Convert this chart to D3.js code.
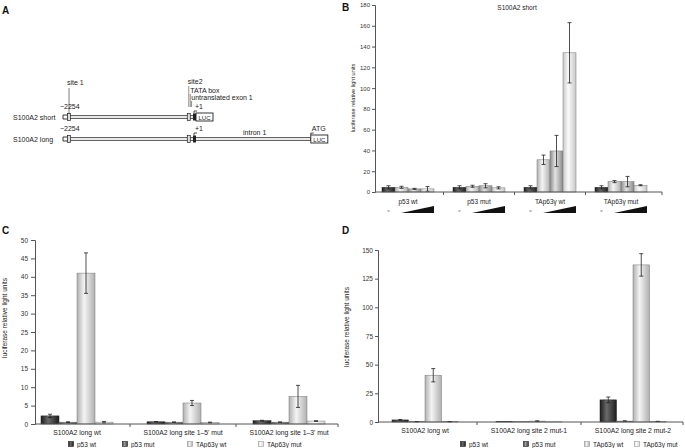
<!DOCTYPE html>
<html><head><meta charset="utf-8">
<script src="https://cdn.jsdelivr.net/npm/d3@7"></script>
<style>body{margin:0;background:#fff}text{font-family:"Liberation Sans",Arial,sans-serif;fill:#222}</style>
</head><body>
<script>
// ---------- DATA ----------
// Panel B (S100A2 short): 4 transfections, 4 bars each ("-" then increasing dose)
const bGroups = ["p53 wt", "p53 mut", "TAp63γ wt", "TAp63γ mut"];
const bDose0 = [4.5, 4.5, 4.5, 4.5];
const bDose1 = [4.5, 5.5, 31, 10];
const bDose2 = [3.0, 6.0, 39.5, 10];
const bDose3 = [3.0, 4.0, 134, 6.5];
const bErr0 = [1.5, 1.5, 1.5, 1.5];
const bErr1 = [1.0, 1.0, 4.5, 1.0];
const bErr2 = [0.5, 2.0, 15, 5.0];
const bErr3 = [2.2, 1.0, 29, 0.5];
const bTicks = [0, 20, 40, 60, 80, 100, 120, 140, 160, 180];

// Panels C / D series
const seriesNames = ["p53 wt", "p53 mut", "TAp63γ wt", "TAp63γ mut"];

const cCategories = ["S100A2 long wt", "S100A2 long site 1–5' mut", "S100A2 long site 1–3' mut"];
const cP53wt = [2.2, 0.6, 0.9];
const cP53mut = [0.5, 0.5, 0.5];
const cTAwt = [41.0, 5.7, 7.5];
const cTAmut = [0.5, 0.4, 0.8];
const cErrP53wt = [0.45, 0.05, 0.1];
const cErrP53mut = [0.1, 0.05, 0.05];
const cErrTAwt = [5.5, 0.7, 3.0];
const cErrTAmut = [0.2, 0.1, 0.1];
const cTicks = [0, 5, 10, 15, 20, 25, 30, 35, 40, 45, 50];

const dCategories = ["S100A2 long wt", "S100A2 long site 2 mut-1", "S100A2 long site 2 mut-2"];
const dP53wt = [1.8, 0.3, 19.3];
const dP53mut = [0.3, 0.3, 0.8];
const dTAwt = [40.8, 0.8, 137];
const dTAmut = [0.3, 0.2, 0.5];
const dErrP53wt = [0.4, 0, 2.5];
const dErrP53mut = [0.1, 0, 0.2];
const dErrTAwt = [5.8, 0.2, 9.8];
const dErrTAmut = [0.1, 0, 0.1];
const dTicks = [0, 25, 50, 75, 100, 125, 150];

// Panel A constructs (bp positions relative to +1)
const constructs = ["S100A2 short", "S100A2 long"];
const constructStart = -2254;
const site1Pos = -2150;
const site2Pos = -90;
const exonPos = 0;
const atgPos = 2010;

// ---------- SETUP ----------
const svg = d3.select("body").append("svg").attr("width", 685).attr("height", 448);
svg.append("rect").attr("width", 685).attr("height", 448).attr("fill", "#fff");
const defs = svg.append("defs");
function grad(id, edge, mid) {
  const g = defs.append("linearGradient").attr("id", id).attr("x1", "0").attr("x2", "1").attr("y1", "0").attr("y2", "0");
  g.append("stop").attr("offset", "0").attr("stop-color", edge);
  g.append("stop").attr("offset", "0.4").attr("stop-color", mid);
  g.append("stop").attr("offset", "1").attr("stop-color", edge);
  return "url(#" + id + ")";
}
const gDark = grad("gDark", "#1c1c1c", "#6a6a6a");
const gDark2 = grad("gDark2", "#3c3c3c", "#9a9a9a");
const gLight = grad("gLight", "#b0b0b0", "#f4f4f4");
const gMid = grad("gMid", "#8a8a8a", "#e2e2e2");
const gLight2 = grad("gLight2", "#c8c8c8", "#fafafa");
const gLight3 = grad("gLight3", "#d6d6d6", "#fdfdfd");

function panelLetter(t, x, y) {
  svg.append("text").attr("x", x).attr("y", y).text(t).attr("font-size", 10).attr("font-weight", "bold").style("fill", "#111");
}

function barPanel(o) {
  const g = svg.append("g");
  const x0 = d3.scaleBand().domain(o.cats).range(o.bandRange);
  const x1 = d3.scaleBand().domain(d3.range(o.series.length)).range([ (x0.bandwidth() - o.barW * o.series.length) / 2, (x0.bandwidth() + o.barW * o.series.length) / 2 ]);
  const y = d3.scaleLinear().domain([0, o.yMax]).range([o.y0, o.yTop]);

  // y axis
  const ya = g.append("g").attr("transform", `translate(${o.axisX0},0)`)
    .call(d3.axisLeft(y).tickValues(o.ticks).tickSize(o.tickSize).tickPadding(o.tickPad));
  ya.selectAll("text").attr("font-size", o.tickFont).style("fill", "#333");
  ya.selectAll("line").attr("stroke", "#555");
  ya.select(".domain").attr("stroke", "#555");

  // bars
  o.series.forEach((vals, si) => {
    g.selectAll(null).data(o.cats).enter().append("rect")
      .attr("x", c => x0(c) + x1(si))
      .attr("width", x1.bandwidth())
      .attr("y", (c, i) => y(vals[i]))
      .attr("height", (c, i) => o.y0 - y(vals[i]))
      .attr("fill", o.fills[si])
      .attr("stroke", si === 0 ? "#222" : "#777").attr("stroke-width", 0.5);
    const errs = o.errors[si];
    o.cats.forEach((c, i) => {
      if (!errs[i]) return;
      const cx = x0(c) + x1(si) + x1.bandwidth() / 2;
      const t = y(vals[i] + errs[i]), b = y(Math.max(0, vals[i] - errs[i]));
      g.append("line").attr("x1", cx).attr("x2", cx).attr("y1", t).attr("y2", b).attr("stroke", "#222").attr("stroke-width", 0.8);
      [t, b].forEach(yy => g.append("line").attr("x1", cx - 2).attr("x2", cx + 2).attr("y1", yy).attr("y2", yy).attr("stroke", "#222").attr("stroke-width", 0.8));
    });
  });

  // x axis line with group ticks
  g.append("line").attr("x1", o.axisX0).attr("x2", o.axisX1).attr("y1", o.y0).attr("y2", o.y0).attr("stroke", "#555");
  const tickXs = o.cats.slice(1).map(c => x0(c)).concat([o.axisX1]);
  g.selectAll(null).data(tickXs).enter().append("line")
    .attr("x1", d => d).attr("x2", d => d).attr("y1", o.y0).attr("y2", o.y0 + 3).attr("stroke", "#555");

  // category labels
  g.selectAll(null).data(o.cats).enter().append("text")
    .attr("x", c => x0(c) + x0.bandwidth() / 2).attr("y", o.catY)
    .attr("text-anchor", "middle").attr("font-size", o.catFont).text(c => c);

  // y title
  g.append("text").attr("transform", `translate(${o.titleX},${o.titleY}) rotate(-90)`)
    .attr("text-anchor", "middle").attr("font-size", o.titleFont).text("luciferase relative light units");
  return { g, x0, x1, y };
}

// ---------- PANEL A ----------
panelLetter("A", 2, 14);
const px = d3.scaleLinear().domain([constructStart, exonPos]).range([63, 194]);
const rowY = d3.scaleOrdinal().domain(constructs).range([117, 139]);
const a = svg.append("g");
constructs.forEach((name, ri) => {
  const yy = rowY(name);
  a.append("text").attr("x", 13).attr("y", yy + 2.5).attr("font-size", 7).text(name);
  a.append("text").attr("x", px(constructStart) - 3).attr("y", yy - 8).attr("font-size", 7).text("−2254");
  const endX = ri === 0 ? px(exonPos) + 2 : px(atgPos);
  // start bracket
  a.append("path").attr("d", `M${px(constructStart)+5},${yy-2} H${px(constructStart)} V${yy+2} H${px(constructStart)+5}`).attr("fill", "none").attr("stroke", "#222").attr("stroke-width", 0.9);
  // double line
  a.append("rect").attr("x", px(constructStart) + 5).attr("y", yy - 1.3).attr("width", endX - px(constructStart) - 5).attr("height", 2.6)
    .attr("fill", "#fff").attr("stroke", "#222").attr("stroke-width", 0.8);
  // site boxes
  [site1Pos, site2Pos].forEach(p => a.append("rect").attr("x", px(p) - 1.5).attr("y", yy - 3.5).attr("width", 3).attr("height", 7)
    .attr("fill", "#ddd").attr("stroke", "#222").attr("stroke-width", 0.7));
  a.append("rect").attr("x", px(exonPos) - 1).attr("y", yy - 3.5).attr("width", 3).attr("height", 7).attr("fill", "#222");
  // +1 arrow
  a.append("path").attr("d", `M${px(exonPos)},${yy - 3.5} V${yy - 6} H${px(exonPos) + 3}`).attr("fill", "none").attr("stroke", "#222").attr("stroke-width", 0.8);
  a.append("text").attr("x", px(exonPos) + 1).attr("y", yy - 8).attr("font-size", 7).text("+1");
  // LUC box
  const lucX = ri === 0 ? px(exonPos) + 2 : px(atgPos);
  a.append("rect").attr("x", lucX).attr("y", yy - 4).attr("width", 17).attr("height", 8).attr("fill", "#fff").attr("stroke", "#222").attr("stroke-width", 0.9);
  a.append("text").attr("x", lucX + 8.5).attr("y", yy + 2.5).attr("text-anchor", "middle").attr("font-size", 6).text("LUC");
  if (ri === 1) {
    a.append("text").attr("x", 243).attr("y", yy - 4).attr("font-size", 7).text("intron 1");
    a.append("text").attr("x", px(atgPos) + 1).attr("y", yy - 8).attr("font-size", 7).text("ATG");
    a.append("path").attr("d", `M${px(atgPos)},${yy - 4} V${yy - 6} H${px(atgPos) + 3}`).attr("fill", "none").attr("stroke", "#222").attr("stroke-width", 0.8);
  }
});
// annotations above short construct
a.append("text").attr("x", px(site1Pos) - 2).attr("y", 85).attr("font-size", 7).text("site 1");
a.append("line").attr("x1", px(site1Pos)).attr("x2", px(site1Pos)).attr("y1", 88).attr("y2", 113.5).attr("stroke", "#222").attr("stroke-width", 0.6);
a.append("text").attr("x", px(site2Pos) - 1).attr("y", 84).attr("font-size", 7).text("site2");
a.append("text").attr("x", px(site2Pos) + 1.5).attr("y", 93).attr("font-size", 7).text("TATA box");
a.append("text").attr("x", px(site2Pos) + 2.5).attr("y", 100).attr("font-size", 7).text("untranslated exon 1");
[[px(site2Pos), 86], [px(site2Pos) + 1.5, 94], [px(site2Pos) + 2.8, 101]].forEach(([xx, y1]) =>
  a.append("line").attr("x1", xx).attr("x2", xx).attr("y1", y1).attr("y2", 107).attr("stroke", "#222").attr("stroke-width", 0.5));

// ---------- PANEL B ----------
panelLetter("B", 342, 11);
const pB = barPanel({
  cats: bGroups, series: [bDose0, bDose1, bDose2, bDose3], errors: [bErr0, bErr1, bErr2, bErr3],
  fills: [gDark, gLight, gMid, gLight2],
  bandRange: [372.5, 656.5], barW: 13, yMax: 180, ticks: bTicks, y0: 192, yTop: 5,
  axisX0: 375, axisX1: 662, tickSize: 3, tickPad: 2, tickFont: 6, catFont: 6.5, catY: 204,
  titleX: 355, titleY: 98, titleFont: 5.6
});
svg.append("text").attr("x", 517).attr("y", 10).attr("text-anchor", "middle").attr("font-size", 6.5).text("S100A2 short");
// dose indicators: "-" and ramps
bGroups.forEach(gname => {
  const gx = pB.x0(gname);
  const xm = gx + pB.x1(0) + pB.x1.bandwidth() / 2;
  svg.append("line").attr("x1", xm - 1).attr("x2", xm + 1).attr("y1", 211).attr("y2", 211).attr("stroke", "#333").attr("stroke-width", 0.7);
  const xs = gx + pB.x1(1) + 6, xe = gx + pB.x1(3) + pB.x1.bandwidth();
  svg.append("path").attr("d", `M${xs},213 L${xe},206 L${xe},213 Z`).attr("fill", "#111");
});

// ---------- PANEL C ----------
panelLetter("C", 2, 234);
const fillsCD = [gDark, gDark2, gLight, gLight3];
barPanel({
  cats: cCategories, series: [cP53wt, cP53mut, cTAwt, cTAmut], errors: [cErrP53wt, cErrP53mut, cErrTAwt, cErrTAmut],
  fills: fillsCD,
  bandRange: [24, 342], barW: 18, yMax: 50, ticks: cTicks, y0: 424, yTop: 240,
  axisX0: 35, axisX1: 338, tickSize: 4, tickPad: 3, tickFont: 6.5, catFont: 6.8, catY: 434.5,
  titleX: 7, titleY: 318, titleFont: 6.5
});

// ---------- PANEL D ----------
panelLetter("D", 342, 234);
barPanel({
  cats: dCategories, series: [dP53wt, dP53mut, dTAwt, dTAmut], errors: [dErrP53wt, dErrP53mut, dErrTAwt, dErrTAmut],
  fills: fillsCD,
  bandRange: [373, 685], barW: 16.5, yMax: 150, ticks: dTicks, y0: 422, yTop: 250,
  axisX0: 378, axisX1: 683, tickSize: 3, tickPad: 2, tickFont: 6.5, catFont: 6.8, catY: 432.5,
  titleX: 349, titleY: 327, titleFont: 6.5
});

// ---------- LEGENDS ----------
function legend(xsSquare, y) {
  const legendFills = fillsCD;
  seriesNames.forEach((s, i) => {
    svg.append("rect").attr("x", xsSquare[i] - 2.5).attr("y", y - 3.5).attr("width", 5).attr("height", 5)
      .attr("fill", legendFills[i]).attr("stroke", i < 2 ? "#222" : "#999").attr("stroke-width", 0.6);
    svg.append("text").attr("x", xsSquare[i] + 6).attr("y", y + 1.5).attr("font-size", 6.5).text(s);
  });
}
legend([71, 125, 190, 261], 445);
legend([463, 526, 587, 637], 445);
</script>
</body></html>
